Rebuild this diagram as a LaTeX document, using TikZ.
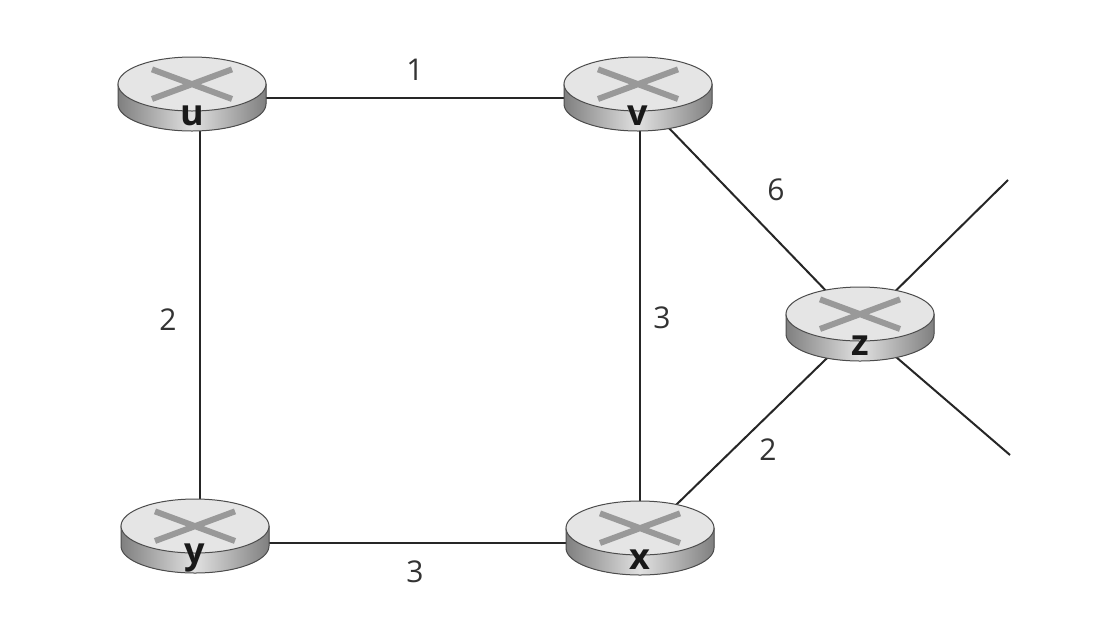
\documentclass[tikz,border=0pt]{standalone}
\usepackage{fontspec}
\setsansfont{Open Sans}
\tikzset{x=1pt,y=-1pt,
 link/.style={line width=2pt,draw=black!85},
 wlabel/.style={font=\sffamily\fontsize{30}{30}\selectfont,text=black!80},
 rlabel/.style={font=\sffamily\bfseries\fontsize{36}{36}\selectfont,text=black!90}}
\newcommand\myrouter[3]{%
 \begin{scope}[shift={(#1)}]
  \fill[left color=black!50,right color=black!50,middle color=black!12,draw=black!70,line width=1pt]
   (-74,-12) -- (-74,8) arc[start angle=180,end angle=0,x radius=74,y radius=27] -- (74,-12) -- cycle;
  \fill[black!10,draw=black!70,line width=1pt] (0,-12) ellipse[x radius=74,y radius=27];
  \begin{scope}[yscale=0.37]
   \draw[black!40,line width=6pt] (-40,-72) -- (40,8) (40,-72) -- (-40,8);
  \end{scope}
  \node[rlabel] (#2) at (0,20) {#3};
 \end{scope}}
\begin{document}
\begin{tikzpicture}
\useasboundingbox[fill=white] (0,0) rectangle (1108,625);
\coordinate (cu) at (192,96);
\coordinate (cv) at (638,96);
\coordinate (cz) at (860,326);
\coordinate (cy) at (195,538);
\coordinate (cx) at (640,540);
\coordinate (e1) at (1008,180);
\coordinate (e2) at (1010,455);
\draw[link] (200,98) -- (638,98);
\draw[link] (200,98) -- (200,543);
\draw[link] (200,543) -- (640,543);
\draw[link] (640,98) -- (640,543);
\draw[link] (cv) -- (cz);
\draw[link] (cx) -- (cz);
\draw[link] (cz) -- (e1);
\draw[link] (cz) -- (e2);
\myrouter{cu}{u}{u}
\myrouter{cv}{v}{v}
\myrouter{cz}{z}{z}
\myrouter{cy}{y}{y}
\myrouter{cx}{x}{x}
\node[wlabel] (l1) at (415,70) {1};
\node[wlabel] (l2) at (168,320) {2};
\node[wlabel] (l3) at (662,318) {3};
\node[wlabel] (l6) at (776,190) {6};
\node[wlabel] (l4) at (768,450) {2};
\node[wlabel] (l5) at (415,572) {3};
\end{tikzpicture}
\end{document}
